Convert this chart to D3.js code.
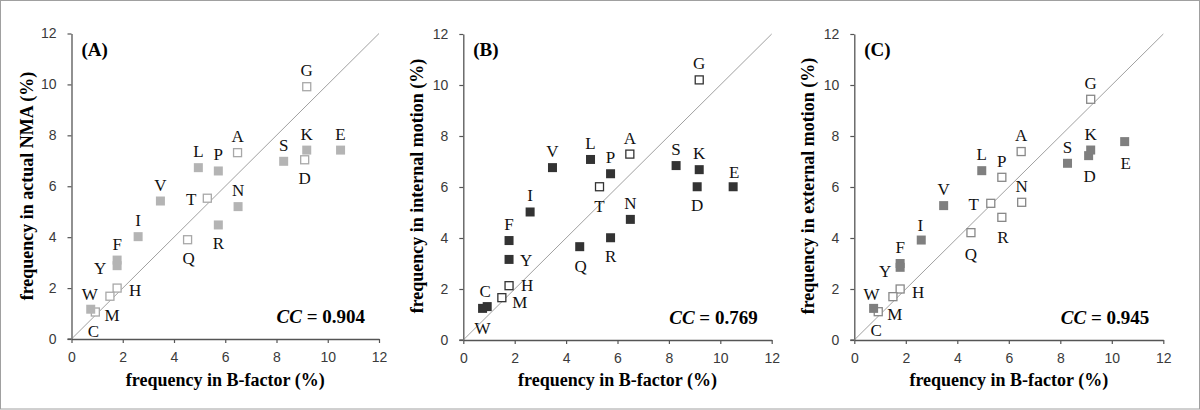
<!DOCTYPE html>
<html>
<head>
<meta charset="utf-8">
<script src="https://cdn.jsdelivr.net/npm/d3@7"></script>
<style>
  body { margin: 0; background: #fff; }
  svg { display: block; }
</style>
</head>
<body>
<div class="svg-container"></div>
<script>
// residues and their frequencies (%)
const residues = ['A', 'C', 'D', 'E', 'F', 'G', 'H', 'I', 'K', 'L', 'M', 'N', 'P', 'Q', 'R', 'S', 'T', 'V', 'W', 'Y']
const bFactor = [6.48, 0.93, 9.1, 10.5, 1.78, 9.18, 1.78, 2.6, 9.18, 4.95, 1.5, 6.5, 5.73, 4.53, 5.73, 8.28, 5.3, 3.47, 0.75, 1.78]
const actualNma = [7.32, 1.06, 7.04, 7.42, 3.1, 9.91, 2.0, 4.02, 7.42, 6.73, 1.68, 5.2, 6.6, 3.9, 4.48, 6.98, 5.53, 5.42, 1.17, 2.88]
const internalMotion = [7.29, 1.31, 6.01, 6.01, 3.9, 10.2, 2.13, 5.02, 6.68, 7.08, 1.66, 4.73, 6.52, 3.66, 4.01, 6.84, 6.01, 6.76, 1.24, 3.16]
const externalMotion = [7.39, 1.11, 7.23, 7.78, 3.0, 9.44, 2.0, 3.92, 7.45, 6.64, 1.7, 5.4, 6.38, 4.21, 4.81, 6.93, 5.36, 5.27, 1.24, 2.85]

// residues drawn as filled squares in each panel
const filledA = ['E', 'K', 'S', 'L', 'P', 'V', 'N', 'R', 'I', 'F', 'Y', 'W']
const filledB = ['C', 'D', 'E', 'F', 'I', 'K', 'L', 'N', 'P', 'Q', 'R', 'S', 'V', 'W', 'Y']
const filledC = ['E', 'K', 'D', 'S', 'L', 'V', 'I', 'F', 'Y', 'W']

const panelTags = ['(A)', '(B)', '(C)']
const yTitles = ['frequency in actual NMA (%)', 'frequency in internal motion (%)', 'frequency in external motion (%)']
const ccValues = ['0.904', '0.769', '0.945']
const ticks = [0, 2, 4, 6, 8, 10, 12]

// label offsets from the square centre (px)
const up = [0, -16], down = [0, 19]
const labelPosA = { A: up, C: [-2, 19], D: down, E: up, F: up, G: up, H: [18, 2], I: up, K: up, L: up,
  M: [2, 19], N: up, P: up, Q: [1, 19], R: down, S: up, T: [-16, 1], V: up, W: [-1, -15], Y: [-17, 3] }
const labelPosB = { A: up, C: [-2, -15], D: down, E: [1, -14], F: up, G: up, H: [18, 0], I: up, K: up, L: up,
  M: [18, 5], N: up, P: up, Q: [1, 20], R: down, S: up, T: [0, 20], V: up, W: [0, 20], Y: [17, 1] }
const labelPosC = { A: up, C: [-2, 19], D: [1, 21], E: [1, 22], F: up, G: up, H: [18, 3], I: [-1, -15], K: up, L: up,
  M: [2, 18], N: up, P: up, Q: [0, 22], R: [1, 20], S: up, T: [-17, 1], V: up, W: [-2, -14], Y: [-15, 4] }

const panels = [
  { values: actualNma, filled: filledA, labels: labelPosA, x: [71.5, 379], y: [339, 33.5], fill: '#b4b4b4', stroke: '#a8a8a8', titleX: 27 },
  { values: internalMotion, filled: filledB, labels: labelPosB, x: [463.3, 771.7], y: [340, 34], fill: '#333', stroke: '#333', titleX: 417 },
  { values: externalMotion, filled: filledC, labels: labelPosC, x: [854.3, 1163.3], y: [340, 34], fill: '#7f7f7f', stroke: '#888', titleX: 808 }
]

const width = 1200
const height = 410
const serif = '"Liberation Serif", "Times New Roman", serif'

const svg = d3.select('.svg-container')
  .append('svg')
  .attr('width', width)
  .attr('height', height)

svg.append('rect')
  .attr('x', 0.5).attr('y', 0.5)
  .attr('width', width - 1).attr('height', height - 1.5)
  .attr('fill', 'none')
  .attr('stroke', '#a0a0a0')

panels.forEach((panel, i) => {
  const xScale = d3.scaleLinear([0, 12], panel.x)
  const yScale = d3.scaleLinear([0, 12], panel.y)
  const g = svg.append('g')

  const xAxis = d3.axisBottom(xScale).tickValues(ticks).tickSize(4).tickSizeOuter(0).tickPadding(9)
  const yAxis = d3.axisLeft(yScale).tickValues(ticks).tickSize(4).tickSizeOuter(0).tickPadding(11)

  const gx = g.append('g')
    .attr('transform', `translate(0, ${panel.y[0]})`)
    .call(xAxis)
  const gy = g.append('g')
    .attr('transform', `translate(${panel.x[0]}, 0)`)
    .call(yAxis)

  for (const ax of [gx, gy]) {
    ax.select('.domain').attr('stroke', '#555').attr('stroke-width', 1.3)
    ax.selectAll('.tick line').attr('stroke', '#555').attr('stroke-width', 1.2)
    ax.selectAll('.tick text')
      .attr('fill', '#3a3a3a')
      .style('font-family', '"Liberation Sans", Arial, sans-serif')
      .style('font-size', '14px')
  }
  // small stub of the x axis to the left of the origin
  g.append('line')
    .attr('x1', panel.x[0] - 4).attr('x2', panel.x[0])
    .attr('y1', panel.y[0]).attr('y2', panel.y[0])
    .attr('stroke', '#555').attr('stroke-width', 1.3)

  // diagonal y = x
  g.append('line')
    .attr('x1', xScale(0)).attr('y1', yScale(0))
    .attr('x2', xScale(12)).attr('y2', yScale(12))
    .attr('stroke', '#888').attr('stroke-width', 0.8)

  const points = residues.map((r, j) => ({ r, x: bFactor[j], y: panel.values[j], filled: panel.filled.includes(r) }))

  g.selectAll('rect.pt')
    .data(points)
    .join('rect')
    .attr('class', 'pt')
    .attr('x', d => xScale(d.x) - (d.filled ? 4.5 : 4))
    .attr('y', d => yScale(d.y) - (d.filled ? 4.5 : 4))
    .attr('width', d => d.filled ? 9 : 8)
    .attr('height', d => d.filled ? 9 : 8)
    .attr('fill', d => d.filled ? panel.fill : '#fff')
    .attr('stroke', d => d.filled ? 'none' : panel.stroke)
    .attr('stroke-width', 1.3)

  g.selectAll('text.lbl')
    .data(points)
    .join('text')
    .attr('class', 'lbl')
    .attr('x', d => xScale(d.x) + panel.labels[d.r][0])
    .attr('y', d => yScale(d.y) + panel.labels[d.r][1])
    .attr('text-anchor', 'middle')
    .attr('dominant-baseline', 'central')
    .attr('fill', '#111')
    .style('font-family', serif)
    .style('font-size', '17px')
    .text(d => d.r)

  g.append('text')
    .attr('x', panel.x[0] + 10)
    .attr('y', yScale(12) + 22)
    .style('font-family', serif)
    .style('font-size', '19px')
    .style('font-weight', 'bold')
    .text(panelTags[i])

  const cc = g.append('text')
    .attr('x', xScale(12) - 14)
    .attr('y', yScale(0) - 16)
    .attr('text-anchor', 'end')
    .style('font-family', serif)
    .style('font-size', '19px')
    .style('font-weight', 'bold')
  cc.append('tspan').style('font-style', 'italic').text('CC')
  cc.append('tspan').text(' = ' + ccValues[i])

  g.append('text')
    .attr('x', (panel.x[0] + panel.x[1]) / 2)
    .attr('y', 386)
    .attr('text-anchor', 'middle')
    .style('font-family', serif)
    .style('font-size', '18px')
    .style('font-weight', 'bold')
    .text('frequency in B-factor (%)')

  g.append('text')
    .attr('transform', `translate(${panel.titleX}, 186) rotate(-90)`)
    .attr('text-anchor', 'middle')
    .attr('dominant-baseline', 'central')
    .style('font-family', serif)
    .style('font-size', '18px')
    .style('font-weight', 'bold')
    .text(yTitles[i])
})
</script>
</body>
</html>
